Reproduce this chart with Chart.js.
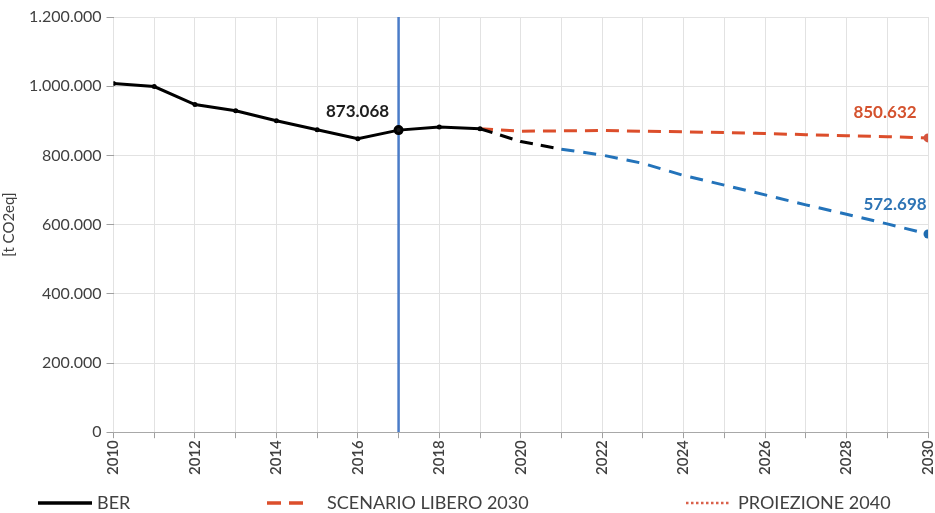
<!DOCTYPE html>
<html>
<head>
<meta charset="utf-8">
<script src="https://cdn.jsdelivr.net/npm/chart.js@4.4.1/dist/chart.umd.min.js"></script>
<style>
  html, body { margin: 0; padding: 0; background: #ffffff; }
  #wrap { width: 935px; height: 513px; position: relative; }
</style>
</head>
<body>
<div id="wrap"><canvas id="c" width="935" height="513"></canvas></div>
<script>
// ---- Data ----
const berYears = [2010, 2011, 2012, 2013, 2014, 2015, 2016, 2017, 2018, 2019];
const berValues = [1008000, 999000, 947000, 929000, 900000, 874000, 848000, 873068, 882000, 877000];

const scenarioYears = [2019, 2020, 2021, 2022, 2023, 2024, 2025, 2026, 2027, 2028, 2029, 2030];
const scenarioValues = [877000, 870000, 871000, 872000, 870000, 868000, 866000, 863000, 860000, 857000, 854000, 850632];

const transitionYears = [2019, 2020, 2021];
const transitionValues = [877000, 840000, 818000];

const projectionYears = [2021, 2022, 2023, 2024, 2025, 2026, 2027, 2028, 2029, 2030];
const projectionValues = [818000, 801000, 777000, 742000, 714000, 686000, 657000, 630000, 602000, 572698];

const markerYear = 2017;
const markerRange = [0, 1200000];

const legendLabels = ['BER', 'SCENARIO LIBERO 2030', 'PROIEZIONE 2040'];
const yAxisTitle = '[t CO2eq]';

// value labels: [dataset index, point index, text]
const valueLabels = [
  { ds: 0, idx: 7, text: '873.068' },
  { ds: 1, idx: 11, text: '850.632' },
  { ds: 3, idx: 9, text: '572.698' }
];

// ---- Helpers ----
const zip = (xs, ys) => xs.map((x, i) => ({ x: x, y: ys[i] }));
const fmt = v => String(Math.round(v)).replace(/\B(?=(\d{3})+(?!\d))/g, '.');

const FONT = 'Lato, "Open Sans", "Liberation Sans", sans-serif';
const RED = '#DC4E2B';
const BLUE = '#2373BA';
const VLINE = '#4A7CC8';

const labelStyle = [
  { dx: -41, dy: -19, color: '#1e1e1e' },
  { dx: -43, dy: -25, color: '#D4522E' },
  { dx: -33, dy: -30, color: '#2E74B5' }
];

const valueLabelPlugin = {
  id: 'valueLabels',
  afterDatasetsDraw(chart) {
    const ctx = chart.ctx;
    ctx.save();
    ctx.font = 'bold 17px ' + FONT;
    ctx.textAlign = 'center';
    ctx.textBaseline = 'middle';
    valueLabels.forEach((l, i) => {
      const el = chart.getDatasetMeta(l.ds).data[l.idx];
      const s = labelStyle[i];
      ctx.fillStyle = s.color;
      ctx.fillText(l.text, el.x + s.dx, el.y + s.dy);
    });
    ctx.restore();
  }
};

const customLegendPlugin = {
  id: 'customLegend',
  afterDraw(chart) {
    const ctx = chart.ctx;
    const y = chart.height - 10;
    ctx.save();
    ctx.font = '18px ' + FONT;
    ctx.fillStyle = '#404040';
    ctx.textBaseline = 'middle';
    ctx.textAlign = 'left';
    // BER
    ctx.strokeStyle = '#000';
    ctx.lineWidth = 3.5;
    ctx.setLineDash([]);
    ctx.beginPath(); ctx.moveTo(38, y); ctx.lineTo(92, y); ctx.stroke();
    ctx.fillText(legendLabels[0], 97, y);
    // SCENARIO
    ctx.strokeStyle = RED;
    ctx.lineWidth = 3.5;
    ctx.setLineDash([14, 8]);
    ctx.beginPath(); ctx.moveTo(267, y); ctx.lineTo(310, y); ctx.stroke();
    ctx.setLineDash([]);
    ctx.fillText(legendLabels[1], 327, y);
    // PROIEZIONE
    ctx.strokeStyle = '#D9604A';
    ctx.lineWidth = 2.5;
    ctx.setLineDash([2.5, 2.5]);
    ctx.beginPath(); ctx.moveTo(686, y); ctx.lineTo(731, y); ctx.stroke();
    ctx.setLineDash([]);
    ctx.fillText(legendLabels[2], 738, y);
    ctx.restore();
  }
};

new Chart(document.getElementById('c'), {
  type: 'line',
  data: {
    datasets: [
      {
        label: legendLabels[0],
        data: zip(berYears, berValues),
        borderColor: '#000',
        backgroundColor: '#000',
        borderWidth: 3,
        pointRadius: berYears.map(y => y === markerYear ? 3.5 : 1),
        pointBackgroundColor: '#1a1a1a',
        tension: 0,
        order: 1
      },
      {
        label: legendLabels[1],
        data: zip(scenarioYears, scenarioValues),
        borderColor: RED,
        backgroundColor: RED,
        borderWidth: 3,
        borderDash: [13, 8],
        pointRadius: scenarioYears.map((y, i) => i === scenarioYears.length - 1 ? 4.5 : 0),
        pointBackgroundColor: '#D4543E',
        pointBorderWidth: 0,
        tension: 0,
        order: 3
      },
      {
        label: 'transition',
        data: zip(transitionYears, transitionValues),
        borderColor: '#000',
        borderWidth: 3,
        borderDash: [13, 8],
        pointRadius: 0,
        tension: 0,
        order: 2
      },
      {
        label: 'projection',
        data: zip(projectionYears, projectionValues),
        borderColor: BLUE,
        backgroundColor: BLUE,
        borderWidth: 3,
        borderDash: [13, 9],
        pointRadius: projectionYears.map((y, i) => i === projectionYears.length - 1 ? 4.5 : 0),
        pointBackgroundColor: '#1F6CB0',
        pointBorderWidth: 0,
        tension: 0,
        order: 2
      },
      {
        label: 'marker',
        data: zip([markerYear, markerYear], markerRange),
        borderColor: VLINE,
        borderWidth: 2.5,
        pointRadius: 0,
        order: 4
      }
    ]
  },
  options: {
    responsive: false,
    animation: false,
    events: [],
    layout: { padding: { left: 0, right: 7, top: 17, bottom: 36 } },
    plugins: {
      legend: { display: false },
      tooltip: { enabled: false },
      title: { display: false }
    },
    scales: {
      x: {
        type: 'linear',
        min: 2010,
        max: 2030,
        afterFit(scale) { scale.paddingRight = 0; scale.paddingLeft = 0; },
        grid: {
          color: '#e2e2e2',
          lineWidth: 1,
          drawTicks: true,
          tickLength: 6,
          tickColor: '#a0a0a0'
        },
        border: { color: '#a8a8a8', width: 1 },
        ticks: {
          stepSize: 1,
          autoSkip: false,
          maxRotation: 90,
          minRotation: 90,
          padding: 2,
          color: '#404040',
          font: { family: FONT, size: 15, weight: '600' },
          callback: v => (v % 2 === 0 ? String(v) : '')
        }
      },
      y: {
        min: 0,
        max: 1200000,
        grid: {
          color: '#e2e2e2',
          lineWidth: 1,
          drawTicks: true,
          tickLength: 7,
          tickColor: '#a0a0a0'
        },
        border: { display: false },
        ticks: {
          stepSize: 200000,
          padding: 5,
          color: '#404040',
          font: { family: FONT, size: 16 },
          callback: v => fmt(v)
        },
        title: {
          display: true,
          text: yAxisTitle,
          color: '#404040',
          font: { family: FONT, size: 15 },
          padding: { top: 0, bottom: 6 }
        }
      }
    }
  },
  plugins: [valueLabelPlugin, customLegendPlugin]
});
</script>
</body>
</html>
